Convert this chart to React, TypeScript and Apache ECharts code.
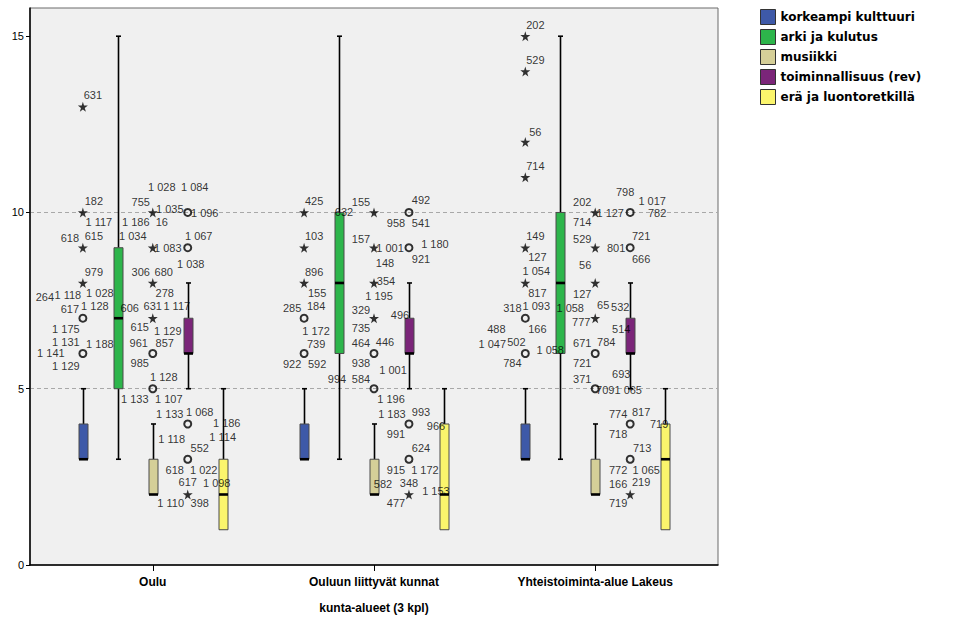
import React, { useEffect, useRef } from "react";
import * as echarts from "echarts";

// ---- data ----
const categories = ["Oulu", "Ouluun liittyvät kunnat", "Yhteistoiminta-alue Lakeus"];
const variables = [
  "korkeampi kulttuuri",
  "arki ja kulutus",
  "musiikki",
  "toiminnallisuus (rev)",
  "erä ja luontoretkillä",
];
const colors = ["#3e59a8", "#2db54b", "#d5cf98", "#7b2579", "#fbf56c"];
const yTickLabels = [0, 5, 10, 15];

// [lower whisker, Q1, median, Q3, upper whisker] per area
const korkeampiKulttuuri = [[3, 3, 3, 4, 5], [3, 3, 3, 4, 5], [3, 3, 3, 4, 5]];
const arkiJaKulutus = [[3, 5, 7, 9, 15], [3, 6, 8, 10, 15], [3, 6, 8, 10, 15]];
const musiikki = [[2, 2, 2, 3, 4], [2, 2, 2, 3, 4], [2, 2, 2, 3, 4]];
const toiminnallisuus = [[5, 6, 6, 7, 8], [5, 6, 6, 7, 8], [5, 6, 6, 7, 8]];
const eraJaLuonto = [[1, 1, 2, 3, 5], [1, 1, 2, 4, 5], [1, 1, 3, 4, 5]];
const boxStats = [korkeampiKulttuuri, arkiJaKulutus, musiikki, toiminnallisuus, eraJaLuonto];

// outliers: [area, variable, value]
const mildOutliers: [number, number, number][] = [
  [0, 0, 7], [0, 0, 6], [0, 2, 6], [0, 2, 5], [0, 3, 10], [0, 3, 9], [0, 3, 4], [0, 3, 3],
  [1, 0, 7], [1, 0, 6], [1, 2, 6], [1, 2, 5], [1, 3, 10], [1, 3, 9], [1, 3, 4], [1, 3, 3],
  [2, 0, 7], [2, 0, 6], [2, 2, 6], [2, 2, 5], [2, 3, 10], [2, 3, 9], [2, 3, 4], [2, 3, 3],
];
const extremeOutliers: [number, number, number][] = [
  [0, 0, 13], [0, 0, 10], [0, 0, 9], [0, 0, 8], [0, 2, 10], [0, 2, 9], [0, 2, 8], [0, 2, 7], [0, 3, 2],
  [1, 0, 10], [1, 0, 9], [1, 0, 8], [1, 2, 10], [1, 2, 9], [1, 2, 8], [1, 2, 7], [1, 3, 2],
  [2, 0, 15], [2, 0, 14], [2, 0, 12], [2, 0, 11], [2, 0, 9], [2, 0, 8],
  [2, 2, 10], [2, 2, 9], [2, 2, 8], [2, 2, 7], [2, 3, 2],
];

// case labels: [text, area, variable, value]
const caseLabels: [string, number, number, number][] = [
  ["631", 0, 0, 13], ["182", 0, 0, 10], ["1 117", 0, 0, 10], ["618", 0, 0, 9], ["615", 0, 0, 9],
  ["979", 0, 0, 8], ["1 028", 0, 0, 8], ["1 118", 0, 0, 8], ["264", 0, 0, 8],
  ["617", 0, 0, 7], ["1 128", 0, 0, 7], ["1 175", 0, 0, 7],
  ["1 131", 0, 0, 6], ["1 188", 0, 0, 6], ["1 141", 0, 0, 6], ["1 129", 0, 0, 6],
  ["755", 0, 2, 10], ["1 035", 0, 2, 10], ["1 186", 0, 2, 10], ["16", 0, 2, 10], ["1 028", 0, 2, 10],
  ["1 083", 0, 2, 9], ["1 034", 0, 2, 9],
  ["306", 0, 2, 8], ["680", 0, 2, 8], ["278", 0, 2, 8],
  ["631", 0, 2, 7], ["1 117", 0, 2, 7], ["606", 0, 2, 7], ["615", 0, 2, 7], ["1 129", 0, 2, 7],
  ["961", 0, 2, 6], ["857", 0, 2, 6], ["985", 0, 2, 6],
  ["1 128", 0, 2, 5], ["1 133", 0, 2, 5], ["1 107", 0, 2, 5],
  ["1 084", 0, 3, 10], ["1 096", 0, 3, 10], ["1 067", 0, 3, 9], ["1 038", 0, 3, 9],
  ["1 133", 0, 3, 4], ["1 068", 0, 3, 4], ["1 118", 0, 3, 4], ["1 186", 0, 3, 4], ["1 114", 0, 3, 4],
  ["552", 0, 3, 3], ["618", 0, 3, 3], ["1 022", 0, 3, 3],
  ["617", 0, 3, 2], ["1 110", 0, 3, 2], ["398", 0, 3, 2], ["1 098", 0, 3, 2],

  ["425", 1, 0, 10], ["103", 1, 0, 9], ["896", 1, 0, 8], ["155", 1, 0, 8],
  ["285", 1, 0, 7], ["184", 1, 0, 7], ["1 172", 1, 0, 7],
  ["739", 1, 0, 6], ["922", 1, 0, 6], ["592", 1, 0, 6],
  ["155", 1, 2, 10], ["632", 1, 2, 10], ["157", 1, 2, 9], ["1 001", 1, 2, 9], ["148", 1, 2, 9],
  ["354", 1, 2, 8], ["1 195", 1, 2, 8], ["329", 1, 2, 7], ["735", 1, 2, 7], ["496", 1, 2, 7],
  ["464", 1, 2, 6], ["446", 1, 2, 6], ["938", 1, 2, 6], ["1 001", 1, 2, 6],
  ["994", 1, 2, 5], ["584", 1, 2, 5], ["1 196", 1, 2, 5],
  ["492", 1, 3, 10], ["958", 1, 3, 10], ["541", 1, 3, 10], ["1 180", 1, 3, 9], ["921", 1, 3, 9],
  ["1 183", 1, 3, 4], ["993", 1, 3, 4], ["991", 1, 3, 4], ["966", 1, 3, 4],
  ["624", 1, 3, 3], ["915", 1, 3, 3], ["1 172", 1, 3, 3],
  ["348", 1, 3, 2], ["477", 1, 3, 2], ["1 153", 1, 3, 2], ["582", 1, 3, 2],

  ["202", 2, 0, 15], ["529", 2, 0, 14], ["56", 2, 0, 12], ["714", 2, 0, 11],
  ["149", 2, 0, 9], ["127", 2, 0, 9], ["1 054", 2, 0, 8], ["817", 2, 0, 8],
  ["318", 2, 0, 7], ["1 093", 2, 0, 7], ["166", 2, 0, 7], ["488", 2, 0, 7],
  ["1 047", 2, 0, 6], ["502", 2, 0, 6], ["784", 2, 0, 6],
  ["202", 2, 2, 10], ["1 127", 2, 2, 10], ["714", 2, 2, 10], ["529", 2, 2, 9], ["56", 2, 2, 9],
  ["127", 2, 2, 8], ["65", 2, 2, 7], ["777", 2, 2, 7], ["1 058", 2, 2, 7], ["532", 2, 2, 7], ["514", 2, 2, 7],
  ["671", 2, 2, 6], ["784", 2, 2, 6], ["721", 2, 2, 6], ["1 058", 2, 2, 6],
  ["371", 2, 2, 5], ["709", 2, 2, 5], ["1 065", 2, 2, 5], ["693", 2, 2, 5],
  ["798", 2, 3, 10], ["1 017", 2, 3, 10], ["782", 2, 3, 10], ["721", 2, 3, 9], ["801", 2, 3, 9], ["666", 2, 3, 9],
  ["774", 2, 3, 4], ["817", 2, 3, 4], ["718", 2, 3, 4], ["719", 2, 3, 4],
  ["713", 2, 3, 3], ["772", 2, 3, 3], ["1 065", 2, 3, 3],
  ["166", 2, 3, 2], ["219", 2, 3, 2], ["719", 2, 3, 2],
];

// ---- layout (pixel nudges of the case labels, same order as caseLabels) ----
const labelNudges: [number, number][] = [
  [10, -12], [11, -11], [16, 10], [-13, -10], [11, -12],
  [11, -11], [17, 10], [-15, 12], [-38, 14],
  [-13, -9], [12, -12], [-17, 11],
  [-17, -11], [17, -9], [-32, 0], [-17, 13],
  [-12, -10], [17, -3], [-17, 10], [9, 10], [9, -25],
  [15, 0], [-20, -12],
  [-12, -11], [11, -11], [12, 10],
  [0, -12], [24, -12], [-23, -10], [-13, 9], [15, 13],
  [-14, -10], [12, -10], [-13, 10],
  [11, -12], [-18, 10], [16, 10],
  [7, -25], [17, 1], [11, -12], [3, 16],
  [-18, -10], [12, -12], [-16, 15], [39, -1], [35, 13],
  [12, -11], [-13, 11], [16, 11],
  [0, -12], [-17, 9], [12, 9], [29, -11],

  [10, -11], [10, -12], [10, -11], [13, 10],
  [-12, -10], [12, -12], [12, 13],
  [12, -9], [-12, 11], [13, 11],
  [-13, -10], [-30, 0], [-13, -9], [16, 0], [11, 15],
  [12, -2], [5, 13], [-13, -8], [-13, 10], [26, -3],
  [-13, -10], [11, -11], [-13, 10], [19, 17],
  [-37, -10], [-13, -10], [17, 10],
  [12, -12], [-13, 11], [12, 11], [26, -4], [12, 11],
  [-17, -10], [12, -12], [-13, 10], [27, 2],
  [12, -11], [-13, 11], [16, 11],
  [0, -11], [-13, 9], [27, -3], [-26, -10],

  [10, -11], [10, -11], [10, -10], [10, -11],
  [10, -12], [12, 9], [11, -12], [12, 10],
  [-13, -10], [11, -12], [12, 11], [-29, 11],
  [-33, -9], [-9, -11], [-13, 10],
  [-13, -10], [15, 1], [-13, 10], [-13, -9], [-10, 17],
  [-13, 11], [8, -13], [-14, 4], [-25, -10], [25, -11], [26, 11],
  [-13, -10], [11, -11], [-13, 10], [-45, -3],
  [-13, -10], [10, 1], [33, 1], [26, -15],
  [-5, -20], [22, -11], [27, 1], [11, -12], [-14, 0], [11, 11],
  [-12, -10], [11, -12], [-12, 10], [29, 0],
  [12, -11], [-12, 11], [16, 11],
  [-12, -10], [11, -12], [-12, 9],
];

const VAR_OFFSET = 0.158; // distance between boxes inside a group, in axis units
const BOX_W = 9;
const STAR =
  "path://M50,0 L61,35 L98,35 L68,57 L79,91 L50,70 L21,91 L32,57 L2,35 L39,35 Z";
const LABEL_FONT = "'Liberation Sans', Arial, sans-serif";

const xOf = (area: number, v: number) => area + (v - 2) * VAR_OFFSET;

export default function App() {
  const ref = useRef<HTMLDivElement>(null);
  useEffect(() => {
    if (!ref.current) return;
    const chart = echarts.init(ref.current, null, { renderer: "svg" });

    const boxSeries = variables.map((name, v) => ({
      name,
      type: "custom",
      z: 2,
      itemStyle: { color: colors[v] },
      encode: { x: 0, y: [1, 2, 3, 4, 5] },
      data: boxStats[v].map((s, g) => [g, ...s]),
      renderItem: (params: any, api: any) => {
        const g = api.value(0);
        const x = xOf(g, v);
        const low = api.value(1), q1 = api.value(2), med = api.value(3), q3 = api.value(4), high = api.value(5);
        const pLow = api.coord([x, low]);
        const pQ1 = api.coord([x, q1]);
        const pMed = api.coord([x, med]);
        const pQ3 = api.coord([x, q3]);
        const pHigh = api.coord([x, high]);
        const cx = Math.round(pQ1[0]) + 0.5;
        const lineStyle = { stroke: "#000", lineWidth: 1.6 };
        const children: any[] = [];
        if (high > q3) {
          children.push({ type: "line", shape: { x1: cx, y1: pHigh[1], x2: cx, y2: pQ3[1] }, style: lineStyle });
          children.push({ type: "line", shape: { x1: cx - 2.5, y1: pHigh[1], x2: cx + 2.5, y2: pHigh[1] }, style: lineStyle });
        }
        if (low < q1) {
          children.push({ type: "line", shape: { x1: cx, y1: pLow[1], x2: cx, y2: pQ1[1] }, style: lineStyle });
          children.push({ type: "line", shape: { x1: cx - 2.5, y1: pLow[1], x2: cx + 2.5, y2: pLow[1] }, style: lineStyle });
        }
        children.push({
          type: "rect",
          shape: { x: cx - BOX_W / 2, y: pQ3[1], width: BOX_W, height: pQ1[1] - pQ3[1] },
          style: { fill: colors[v], stroke: "#4a4a4a", lineWidth: 1 },
        });
        children.push({
          type: "line",
          shape: { x1: cx - BOX_W / 2, y1: pMed[1], x2: cx + BOX_W / 2, y2: pMed[1] },
          style: { stroke: "#000", lineWidth: 2.6 },
        });
        return { type: "group", children };
      },
    }));

    const option: any = {
      animation: false,
      backgroundColor: "#ffffff",
      grid: {
        left: 30,
        right: 241,
        top: 8,
        bottom: 67,
        show: true,
        backgroundColor: "#f0f0f0",
        borderColor: "#6a6a6a",
        borderWidth: 1,
      },
      legend: {
        orient: "vertical",
        left: 760,
        top: 9,
        padding: 0,
        itemWidth: 15,
        itemHeight: 15,
        itemGap: 4,
        selectedMode: false,
        textStyle: { fontFamily: "'DejaVu Sans', sans-serif", fontWeight: "bold", fontSize: 12, color: "#000" },
        data: variables.map((name, v) => ({
          name,
          icon: "rect",
          itemStyle: { color: colors[v], borderColor: "#333", borderWidth: 1 },
        })),
      },
      xAxis: {
        type: "value",
        min: -0.555,
        max: 2.555,
        name: "kunta-alueet (3 kpl)",
        nameLocation: "middle",
        nameGap: 37,
        nameTextStyle: { fontFamily: LABEL_FONT, fontWeight: "bold", fontSize: 12, color: "#000" },
        axisLine: { show: true, onZero: false, lineStyle: { color: "#000", width: 1.5 } },
        axisTick: { show: true, length: 6, customValues: [0, 1, 2], lineStyle: { color: "#000" } },
        axisLabel: {
          customValues: [0, 1, 2],
          margin: 11,
          formatter: (val: number) => categories[Math.round(val)] ?? "",
          fontFamily: LABEL_FONT,
          fontWeight: "bold",
          fontSize: 12,
          color: "#000",
        },
        splitLine: { show: false },
      },
      yAxis: {
        type: "value",
        min: 0,
        max: 15.8,
        interval: 2.5,
        axisLine: { show: true, onZero: false, lineStyle: { color: "#000", width: 1.5 } },
        axisTick: { show: true, length: 4, customValues: yTickLabels, lineStyle: { color: "#000" } },
        axisLabel: {
          customValues: yTickLabels,
          margin: 6,
          fontFamily: LABEL_FONT,
          fontSize: 11,
          color: "#000",
        },
        splitLine: {
          show: true,
          showMinLine: false,
          showMaxLine: false,
          lineStyle: { color: "#a8a8a8", type: [4, 3], width: 1 },
        },
      },
      series: [
        ...boxSeries,
        {
          name: "mild",
          type: "scatter",
          z: 3,
          symbol: "circle",
          symbolSize: 7,
          itemStyle: { color: "rgba(0,0,0,0)", borderColor: "#000", borderWidth: 2 },
          data: mildOutliers.map(([g, v, y]) => [xOf(g, v), y]),
          silent: true,
        },
        {
          name: "extreme",
          type: "scatter",
          z: 3,
          symbol: STAR,
          symbolSize: 10,
          itemStyle: { color: "#000" },
          data: extremeOutliers.map(([g, v, y]) => [xOf(g, v), y]),
          silent: true,
        },
        {
          name: "cases",
          type: "scatter",
          z: 4,
          symbolSize: 0,
          silent: true,
          itemStyle: { color: "rgba(0,0,0,0)" },
          label: {
            show: true,
            position: "inside",
            fontFamily: LABEL_FONT,
            fontSize: 11,
            color: "#000",
            formatter: (p: any) => p.name,
          },
          data: caseLabels.map(([text, g, v, y], i) => ({
            name: text,
            value: [xOf(g, v), y],
            label: { offset: labelNudges[i] },
          })),
        },
      ],
    };
    chart.setOption(option);
    return () => chart.dispose();
  }, []);
  return (
    <div
      ref={ref}
      style={{ position: "fixed", left: 0, top: 0, width: 959, height: 632, background: "#fff" }}
    />
  );
}
